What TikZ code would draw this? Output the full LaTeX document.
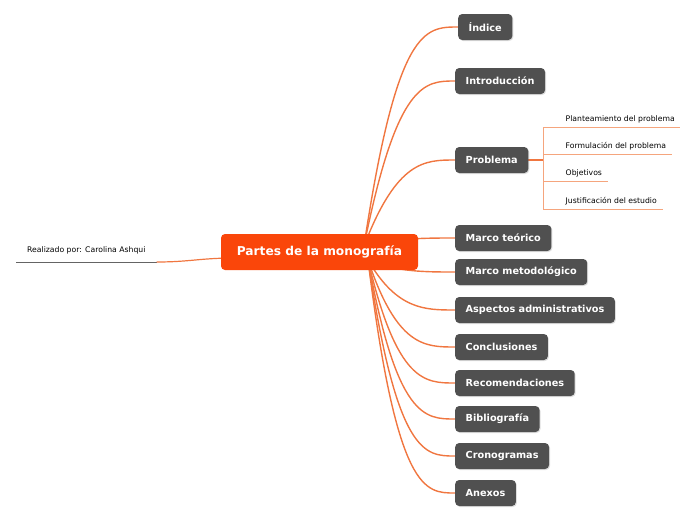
\documentclass[tikz,border=0pt]{standalone}
\usepackage{fontspec}
\setmainfont{DejaVu Sans}
\usetikzlibrary{shadows,backgrounds}
\definecolor{rootc}{RGB}{250,70,10}
\definecolor{nodec}{RGB}{80,80,80}
\definecolor{connc}{RGB}{240,118,64}
\definecolor{subc}{RGB}{245,165,125}
\definecolor{grayline}{RGB}{100,100,100}
\tikzset{
  rootbox/.style={fill=rootc, rounded corners=4pt, text=white, font=\fontsize{12.2}{14}\selectfont\bfseries, minimum height=36pt, inner xsep=14pt},
  topicbox/.style={fill=nodec, rounded corners=4pt, text=white, font=\fontsize{9.7}{11}\selectfont\bfseries, minimum height=26pt, inner xsep=10.5pt, anchor=west, drop shadow={opacity=0.25, shadow xshift=1pt, shadow yshift=-1pt}},
  conn/.style={draw=connc, line width=1.4pt},
  subline/.style={draw=subc, line width=1pt},
  subtext/.style={font=\fontsize{7.7}{9}\selectfont, text=black, anchor=south west, inner xsep=5.5pt, inner ysep=3.3pt},
}
\begin{document}
\begin{tikzpicture}[x=1pt,y=-1pt]
\useasboundingbox (0,0) rectangle (696,520);
% root
\node[rootbox, minimum width=197pt] (root) at (319.5,252) {Partes de la monografía};
% topics
\node[topicbox] (t1) at (458,27) {Índice};
\node[topicbox] (t2) at (455,81) {Introducción};
\node[topicbox] (t3) at (455,160) {Problema};
\node[topicbox] (t4) at (455,238) {Marco teórico};
\node[topicbox] (t5) at (455,272) {Marco metodológico};
\node[topicbox] (t6) at (455,310) {Aspectos administrativos};
\node[topicbox] (t7) at (455,347) {Conclusiones};
\node[topicbox] (t8) at (455,383) {Recomendaciones};
\node[topicbox] (t9) at (455,419) {Bibliografía};
\node[topicbox] (t10) at (455,456) {Cronogramas};
\node[topicbox] (t11) at (455,493) {Anexos};
% left label
\node[font=\fontsize{7.7}{9}\selectfont, anchor=south west, inner xsep=11pt, inner ysep=8pt] (lbl) at (16,262) {Realizado por: Carolina Ashqui};
% subtopics
\node[subtext] (s1) at (560,127) {Planteamiento del problema};
\node[subtext] (s2) at (560,154) {Formulación del problema};
\node[subtext] (s3) at (560,181) {Objetivos};
\node[subtext] (s4) at (560,209) {Justificación del estudio};
\coordinate (j1) at (543,127);
\coordinate (j2) at (543,154);
\coordinate (j3) at (543,181);
\coordinate (j4) at (543,209);
\coordinate (jp) at (543,160);
% helper coordinates
\coordinate (oU) at (364,246);
\coordinate (oD) at (368,260);
\coordinate (cA) at (397,0);
\coordinate (cB) at (425,0);
\coordinate (lin) at (235,258);
\begin{scope}[on background layer]
\foreach \n in {t1,t2,t3,t4}{
  \draw[conn] (oU) .. controls (cA |- \n.west) and (cB |- \n.west) .. (\n.west);
}
\foreach \n in {t5,t6,t7,t8,t9,t10,t11}{
  \draw[conn] (oD) .. controls (cA |- \n.west) and (cB |- \n.west) .. (\n.west);
}
\draw[grayline, line width=1pt] (lbl.south west) -- (lbl.south east);
\draw[conn, line width=1.2pt] (lbl.south east) .. controls (190,262) and (200,258) .. (lin);
\draw[conn, line width=1.2pt] (t3.east) -- (jp);
\draw[subline] (j1) -- (j4);
\draw[subline] (j1) -- (s1.south east);
\draw[subline] (j2) -- (s2.south east);
\draw[subline] (j3) -- (s3.south east);
\draw[subline] (j4) -- (s4.south east);
\end{scope}
\end{tikzpicture}
\end{document}
